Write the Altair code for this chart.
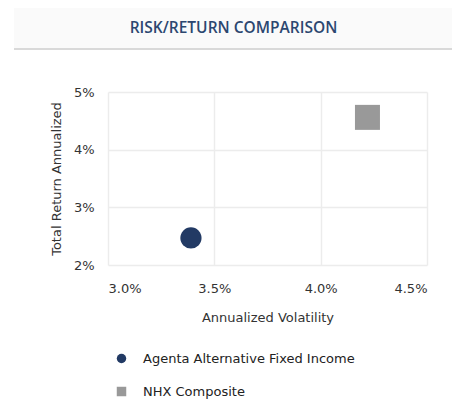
import altair as alt
import pandas as pd

# ---- data ----
names = ["Agenta Alternative Fixed Income", "NHX Composite"]
volatility = [0.0339, 0.0422]      # Annualized Volatility
total_return = [0.0247, 0.0456]    # Total Return Annualized
shapes = ["circle", "square"]
colors = ["#223a64", "#999999"]
marker_sizes = [450, 625]
x_ticks = [0.03, 0.035, 0.04, 0.045]
y_ticks = [0.02, 0.03, 0.04, 0.05]
title_text = "RISK/RETURN COMPARISON"

df = pd.DataFrame({"name": names, "vol": volatility, "ret": total_return})

W, H = 319, 173
one = alt.Data(values=[{}])

band = alt.Chart(one).mark_rect(fill="#fafafa").encode(
    x=alt.value(-94), x2=alt.value(347), y=alt.value(-86), y2=alt.value(-43))
band_top = alt.Chart(one).mark_rule(color="#d9d9d9", strokeWidth=2).encode(
    x=alt.value(-94), x2=alt.value(347), y=alt.value(-86))
band_bot = alt.Chart(one).mark_rule(color="#d9d9d9", strokeWidth=2).encode(
    x=alt.value(-94), x2=alt.value(347), y=alt.value(-43))
title = alt.Chart(one).mark_text(
    font="Open Sans", fontSize=15.5, fontWeight=600, color="#2c4770",
    align="center", baseline="middle"
).encode(x=alt.value(125.5), y=alt.value(-64), text=alt.value(title_text))

leg = alt.Legend(title=None, orient="none", legendX=7, legendY=260,
                 direction="vertical", symbolSize=90, rowPadding=19,
                 labelOffset=15, labelFont="DejaVu Sans", labelLimit=400,
                 labelFontSize=13, labelColor="#222", padding=0)

xenc = alt.X("vol:Q", title="Annualized Volatility",
             scale=alt.Scale(domain=[0.03, 0.045], nice=False, zero=False),
             axis=alt.Axis(values=x_ticks, format=".1%", labelPadding=17, titlePadding=16))
yenc = alt.Y("ret:Q", title="Total Return Annualized",
             scale=alt.Scale(domain=[0.02, 0.05], nice=False, zero=False),
             axis=alt.Axis(values=y_ticks, format=".0%", labelPadding=14, titlePadding=10))
cenc = alt.Color("name:N", scale=alt.Scale(domain=names, range=colors), legend=leg)
senc = alt.Shape("name:N", scale=alt.Scale(domain=names, range=shapes), legend=leg)

layers = []
for nm, sz in zip(names, marker_sizes):
    layers.append(
        alt.Chart(df).transform_filter(alt.datum.name == nm)
        .mark_point(filled=True, opacity=1, size=sz)
        .encode(x=xenc, y=yenc, color=cenc, shape=senc)
    )

chart = alt.layer(band, band_top, band_bot, title, *layers).properties(
    width=W, height=H,
    autosize=alt.AutoSizeParams(type="none"),
    padding={"left": 100, "top": 84, "right": 25, "bottom": 140},
).configure_view(strokeWidth=0).configure_axis(
    grid=True, gridColor="#ececec", gridWidth=1.5, domain=False, ticks=False,
    labelFont="DejaVu Sans", labelFontSize=13, labelColor="#333",
    titleFont="DejaVu Sans", titleFontSize=13, titleColor="#333", titleFontWeight="normal",
)

chart.save("out.html", embed_options={"renderer": "svg", "actions": False})
